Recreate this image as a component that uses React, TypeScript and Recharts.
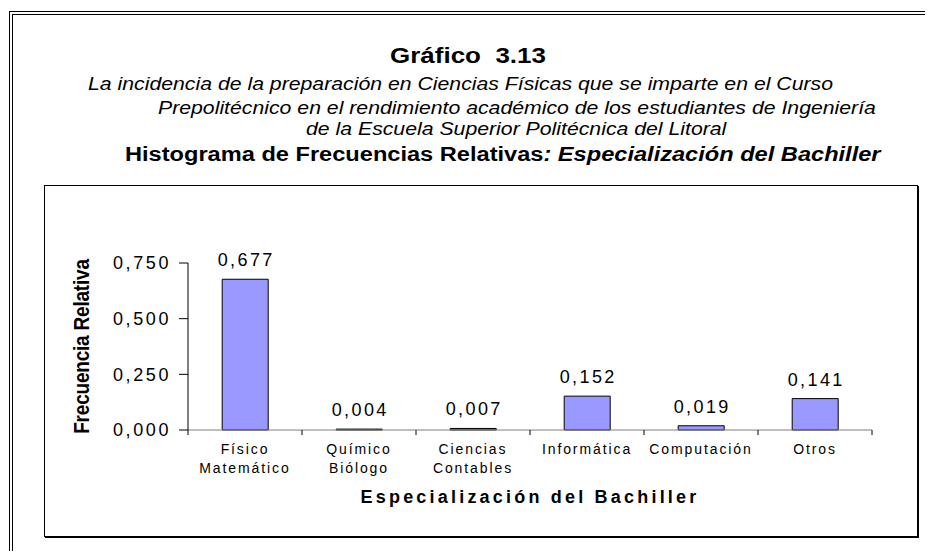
import { BarChart, Bar, XAxis, YAxis, LabelList } from "recharts";

const categories = [
  "Físico\nMatemático",
  "Químico\nBiólogo",
  "Ciencias\nContables",
  "Informática",
  "Computación",
  "Otros",
];
const frequencies = [0.677, 0.004, 0.007, 0.152, 0.019, 0.141];
const yTicks = [0, 0.25, 0.5, 0.75];

const data = categories.map((name, i) => ({ name, value: frequencies[i] }));

const FONT = "'Liberation Sans', Arial, sans-serif";
const fmt = (v: number) => v.toFixed(3).replace(".", ",");

// the source picture is stretched sideways a bit, so headings get widened
const STRETCH = "scaleX(1.18)";

function CategoryTick(props: any) {
  const { x, y, payload, index, visibleTicksCount } = props;
  const half = payload?.offset ?? 57;
  const lines = String(payload.value).split("\n");
  const last = index === visibleTicksCount - 1;
  return (
    <g>
      <line x1={x - half} x2={x - half} y1={y} y2={y + 5} stroke="#000" />
      {last && <line x1={x + half} x2={x + half} y1={y} y2={y + 5} stroke="#000" />}
      <text
        x={x}
        y={y + 24}
        textAnchor="middle"
        fontSize={14}
        letterSpacing={1.9}
        fill="#000"
        fontFamily={FONT}
      >
        {lines.map((l, i) => (
          <tspan key={i} x={x} dy={i === 0 ? 0 : 18.5}>
            {l}
          </tspan>
        ))}
      </text>
    </g>
  );
}

const line = (left: number, top: number, extra: any = {}) => ({
  position: "absolute" as const,
  left,
  top,
  whiteSpace: "nowrap" as const,
  transform: STRETCH,
  transformOrigin: "left center",
  ...extra,
});

export default function App() {
  return (
    <div
      style={{
        position: "relative",
        width: 933,
        height: 559,
        margin: -8,
        overflow: "hidden",
        background: "#fff",
        fontFamily: FONT,
        color: "#000",
      }}
    >
      {/* outer double frame, runs off the right and bottom */}
      <div
        style={{
          position: "absolute",
          left: 9,
          top: 11,
          width: 1200,
          height: 800,
          borderLeft: "4px double #000",
          borderTop: "4px double #000",
        }}
      />

      <div
        style={{
          position: "absolute",
          left: 0,
          width: 936,
          top: 43,
          textAlign: "center",
          fontWeight: "bold",
          fontSize: 22,
          whiteSpace: "pre",
          transform: STRETCH,
          transformOrigin: "center center",
        }}
      >
        Gráfico  3.13
      </div>
      <div style={line(88, 74, { fontStyle: "italic", fontSize: 18 })}>
        La incidencia de la preparación en Ciencias Físicas que se imparte en el Curso
      </div>
      <div style={line(158, 98, { fontStyle: "italic", fontSize: 18 })}>
        Prepolitécnico en el rendimiento académico de los estudiantes de Ingeniería
      </div>
      <div style={line(306, 119, { fontStyle: "italic", fontSize: 18 })}>
        de la Escuela Superior Politécnica del Litoral
      </div>
      <div style={line(125, 143, { fontWeight: "bold", fontSize: 20 })}>
        Histograma de Frecuencias Relativas<i>: Especialización del Bachiller</i>
      </div>

      <div
        style={{
          position: "absolute",
          left: 44,
          top: 185,
          width: 872,
          height: 350,
          border: "1px solid #000",
          boxShadow: "1px 1px 0 #000",
        }}
      />

      <div style={{ position: "absolute", left: 44, top: 185 }}>
        <BarChart
          width={874}
          height={351}
          data={data}
          margin={{ top: 78, right: 46, left: 0, bottom: 0 }}
          barCategoryGap="30%"
        >
          <XAxis
            dataKey="name"
            interval={0}
            height={106}
            tickSize={0}
            tickMargin={0}
            tickLine={false}
            axisLine={{ stroke: "#808080" }}
            tick={<CategoryTick />}
            label={{
              content: (p: any) => {
                const vb = p.viewBox;
                return (
                  <text
                    x={vb.x + vb.width / 2}
                    y={vb.y + 73}
                    textAnchor="middle"
                    fontSize={18}
                    fontWeight="bold"
                    letterSpacing={3.2}
                    fontFamily={FONT}
                    fill="#000"
                  >
                    Especialización del Bachiller
                  </text>
                );
              },
            }}
          />
          <YAxis
            width={144}
            domain={[0, 0.75]}
            ticks={yTicks}
            tickFormatter={fmt}
            tickSize={9}
            tickMargin={8}
            axisLine={{ stroke: "#000" }}
            tickLine={{ stroke: "#000" }}
            tick={{ fontSize: 18, fill: "#000", letterSpacing: 2.6, fontFamily: FONT }}
            label={{
              content: (p: any) => {
                const vb = p.viewBox;
                const cx = vb.x + 37;
                const cy = vb.y + vb.height / 2;
                return (
                  <text
                    transform={`translate(${cx} ${cy}) rotate(-90) scale(1 1.18)`}
                    x={0}
                    y={0}
                    textAnchor="middle"
                    dominantBaseline="central"
                    fontSize={19}
                    fontWeight="bold"
                    letterSpacing={-0.2}
                    fontFamily={FONT}
                    fill="#000"
                  >
                    Frecuencia Relativa
                  </text>
                );
              },
            }}
          />
          <Bar dataKey="value" fill="#9999FF" stroke="#000" strokeWidth={1} isAnimationActive={false}>
            <LabelList
              dataKey="value"
              content={(p: any) => (
                <text
                  x={Number(p.x) + Number(p.width) / 2 + 1}
                  y={Number(p.y) - 13}
                  textAnchor="middle"
                  fontSize={18}
                  letterSpacing={2.4}
                  fontFamily={FONT}
                  fill="#000"
                >
                  {fmt(Number(p.value))}
                </text>
              )}
            />
          </Bar>
        </BarChart>
      </div>
    </div>
  );
}
